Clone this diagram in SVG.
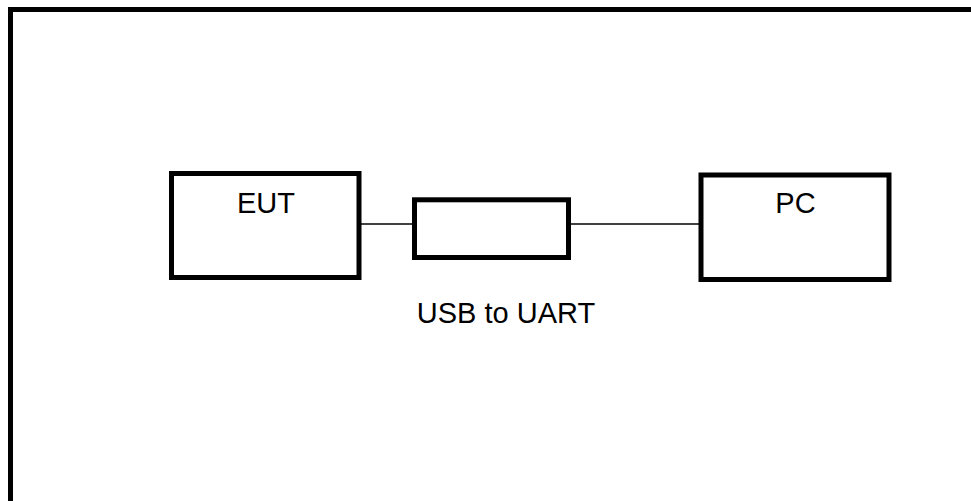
<svg xmlns="http://www.w3.org/2000/svg" width="971" height="501" viewBox="0 0 971 501">
<style>
.box{fill:#fff;stroke:#000;stroke-width:5}
.lbl{font-family:"Liberation Sans",Arial,sans-serif;font-size:29px;fill:#000;text-anchor:middle}
.wire{stroke:#000;stroke-width:1.5;fill:none}
</style>
<rect width="971" height="501" fill="#fff"/>
<g id="frame"><rect x="10.5" y="9.5" width="975" height="505" fill="none" stroke="#000" stroke-width="5"/></g>
<g id="connectors">
<line class="wire" x1="361" y1="224" x2="413" y2="224"/>
<line class="wire" x1="570" y1="224" x2="699" y2="224"/>
</g>
<g id="eut"><rect class="box" x="171.5" y="173.5" width="187.5" height="104"/><text class="lbl" x="266" y="212.5">EUT</text></g>
<g id="usb"><rect class="box" x="414.5" y="199.8" width="154" height="57.7"/><text class="lbl" x="506" y="322.5">USB to UART</text></g>
<g id="pc"><rect class="box" x="701" y="175" width="188" height="104.5"/><text class="lbl" x="795.5" y="212.5">PC</text></g>
</svg>
